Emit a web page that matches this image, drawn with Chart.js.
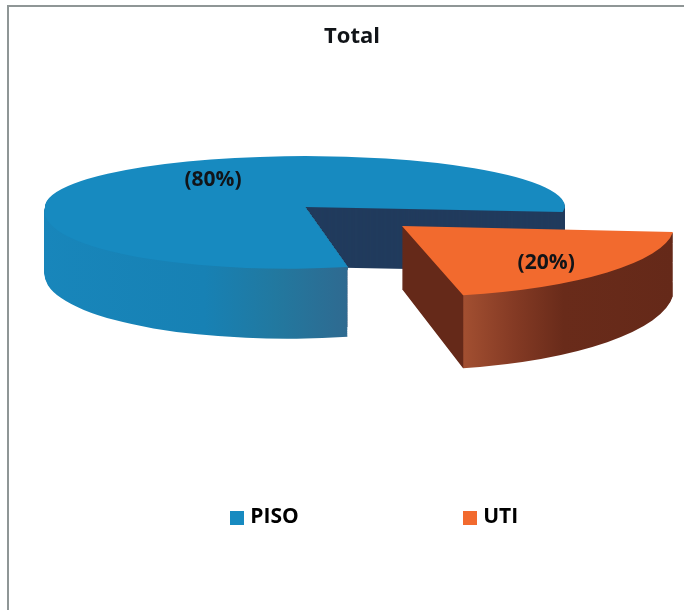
<!DOCTYPE html>
<html>
<head>
<meta charset="utf-8">
<style>html,body{margin:0;padding:0;background:#fff}canvas{display:block}</style>
<script src="https://cdn.jsdelivr.net/npm/chart.js@4/dist/chart.umd.min.js"></script>
</head>
<body>
<canvas id="c" width="684" height="610"></canvas>
<script>
const categories = ['PISO', 'UTI'];
const values = [80, 20];
const topColors = ['#178ac0', '#f26a2e'];
const chartTitle = 'Total';

const FONT = '"Open Sans", "Noto Sans", sans-serif';
const INK = '#111418';

// View of the tilted pie: where each slice's centre lands and how the unit circle is squashed.
const viewPiso = { x: 305, y: 207, a: 260, upperD: 51, lowerC: -18, lowerD: 61.7, depth: 62, innerDepth: 60, flare: 0.13,
  label: [-0.354, -0.53] };
const viewUti = { x: 402, y: 226, a: 272, c: -2, b: 0.3, d: 71, depth: 63, flare: 0.145,
  label: [0.53, 0.52] };

function ghost(el, fill) {
  const g = Object.create(el);
  g.options = Object.assign({}, el.options, { backgroundColor: fill, borderWidth: 0 });
  return g;
}

function drawWith(ctx, el, fill, ox, oy, a, b, c, d) {
  const R = el.outerRadius;
  ctx.save();
  ctx.translate(ox, oy);
  ctx.transform(a / R, b / R, c / R, d / R, 0, 0);
  ctx.translate(-el.x, -el.y);
  ghost(el, fill).draw(ctx);
  ctx.restore();
}

// The wide slice has its near half closer to the camera, so it is drawn in two halves.
function drawPiso(ctx, el, fill, dy, grow, W, H) {
  const v = viewPiso, cut = v.y + dy;
  ctx.save();
  ctx.beginPath(); ctx.rect(0, 0, W, cut); ctx.clip();
  drawWith(ctx, el, fill, v.x, cut, v.a, 0, 0, v.upperD);
  ctx.restore();
  ctx.save();
  ctx.beginPath(); ctx.rect(0, cut, W, H - cut); ctx.clip();
  drawWith(ctx, el, fill, v.x, cut, v.a, 0, v.lowerC, v.lowerD * grow);
  ctx.restore();
}

const pie3d = {
  id: 'pie3d',
  beforeDraw(chart) {
    const { ctx, width, height } = chart;
    ctx.save();
    ctx.strokeStyle = '#8f9696';
    ctx.lineWidth = 2;
    ctx.beginPath();
    ctx.moveTo(width, 6); ctx.lineTo(8, 6); ctx.lineTo(8, height);
    ctx.stroke();
    ctx.restore();
  },
  afterLayout(chart) {
    const lg = chart.legend;
    lg.left += 24; lg.right += 24;
  },
  beforeDatasetsDraw(chart) {
    const { ctx, width, height } = chart;
    const meta = chart.getDatasetMeta(0);
    const [piso, uti] = meta.data;
    const R = piso.outerRadius;

    // --- PISO: hidden inner face, then the outer wall, then the top
    const v = viewPiso;
    const tipX = v.x + v.a * Math.cos(piso.startAngle) + v.lowerC * Math.sin(piso.startAngle);
    const tipY = v.y + v.lowerD * Math.sin(piso.startAngle);
    const wall = ctx.createLinearGradient(piso.x - R, 0, piso.x + R * Math.cos(piso.startAngle), 0);
    wall.addColorStop(0, '#1886bb');
    wall.addColorStop(0.55, '#1781b4');
    wall.addColorStop(0.78, '#22789f');
    wall.addColorStop(1, '#2f6a90');

    for (let dy = v.innerDepth; dy >= 1; dy--) {
      drawPiso(ctx, piso, '#213b5d', dy, 1, width, height);
    }
    ctx.save();
    ctx.beginPath();
    ctx.moveTo(v.x, v.y); ctx.lineTo(tipX, tipY); ctx.lineTo(tipX, height);
    ctx.lineTo(0, height); ctx.lineTo(0, 0); ctx.lineTo(v.x, 0); ctx.closePath();
    ctx.clip();
    for (let dy = v.depth; dy >= 1; dy--) {
      drawPiso(ctx, piso, wall, dy, 1 + v.flare * dy / v.depth, width, height);
    }
    ctx.restore();
    drawPiso(ctx, piso, piso.options.backgroundColor, 0, 1, width, height);

    // --- UTI: pulled-out slice
    const u = viewUti;
    const t = Math.cos(uti.endAngle);
    const side = ctx.createLinearGradient(uti.x, 0, uti.x + uti.outerRadius, 0);
    side.addColorStop(0, '#652919');
    side.addColorStop(t, '#652919');
    side.addColorStop(Math.min(t + 0.002, 1), '#a24f31');
    side.addColorStop(0.42, '#843a24');
    side.addColorStop(0.6, '#692b1a');
    side.addColorStop(1, '#652919');
    for (let dy = u.depth; dy >= 1; dy--) {
      drawWith(ctx, uti, side, u.x, u.y + dy, u.a, u.b, u.c, u.d * (1 + u.flare * dy / u.depth));
    }
    drawWith(ctx, uti, uti.options.backgroundColor, u.x, u.y, u.a, u.b, u.c, u.d);

    // --- Percent labels
    const total = values.reduce((s, x) => s + x, 0);
    ctx.save();
    ctx.fillStyle = INK;
    ctx.font = 'bold 21px ' + FONT;
    ctx.textAlign = 'center';
    ctx.textBaseline = 'middle';
    ctx.fillText('(' + Math.round(values[0] / total * 100) + '%)',
      v.x + v.a * v.label[0], v.y + v.upperD * v.label[1]);
    ctx.fillText('(' + Math.round(values[1] / total * 100) + '%)',
      u.x + u.a * u.label[0], u.y + u.d * u.label[1]);
    ctx.restore();
    return false;
  }
};

function swatch(color) {
  const s = document.createElement('canvas');
  s.width = 14; s.height = 14;
  const x = s.getContext('2d');
  x.fillStyle = color; x.fillRect(0, 0, 14, 14);
  return s;
}

new Chart(document.getElementById('c'), {
  type: 'pie',
  data: {
    labels: categories,
    datasets: [{ data: values, backgroundColor: topColors, borderWidth: 0 }]
  },
  options: {
    responsive: false,
    animation: false,
    devicePixelRatio: 1,
    rotation: 166.6,
    layout: { padding: { left: 20, bottom: 72 } },
    plugins: {
      tooltip: { enabled: false },
      title: {
        display: true,
        text: chartTitle,
        color: INK,
        font: { family: FONT, size: 22, weight: 'bold' },
        padding: { top: 24, bottom: 4 }
      },
      legend: {
        display: true,
        position: 'bottom',
        labels: {
          usePointStyle: true,
          pointStyleWidth: 6,
          boxWidth: 6,
          boxHeight: 14,
          padding: 168,
          color: INK,
          font: { family: FONT, size: 21, weight: 'bold' },
          generateLabels(chart) {
            return categories.map((name, i) => ({
              text: name, fillStyle: topColors[i], strokeStyle: topColors[i],
              lineWidth: 0, index: i, pointStyle: swatch(topColors[i])
            }));
          }
        }
      }
    }
  },
  plugins: [pie3d]
});
</script>
</body>
</html>
